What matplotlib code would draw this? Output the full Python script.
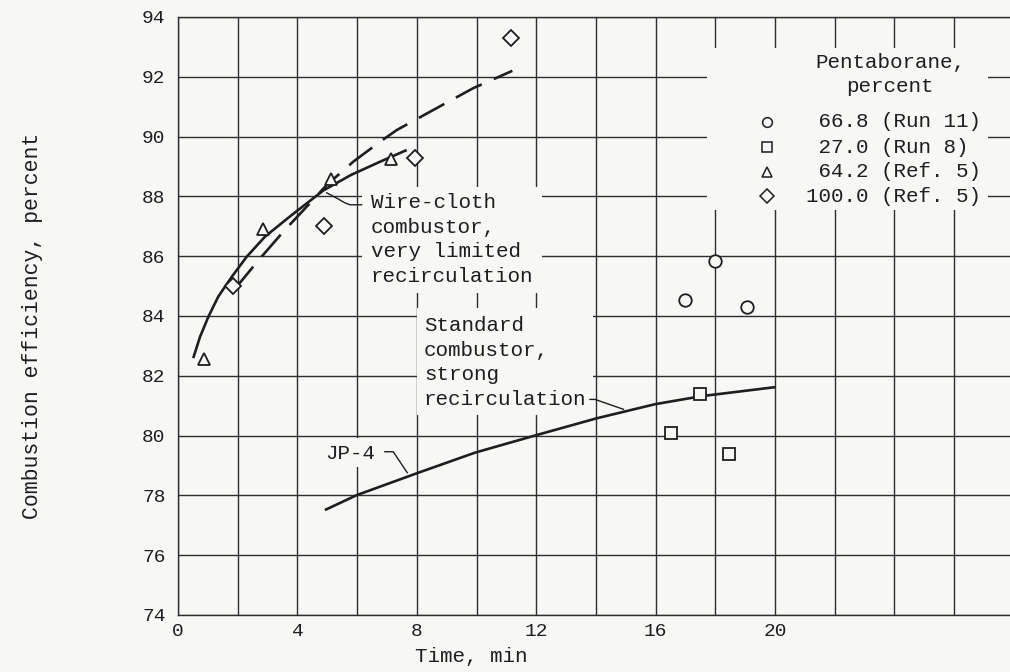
import matplotlib
matplotlib.use("Agg")
import matplotlib.pyplot as plt
from matplotlib.patches import Rectangle

# ---------------- data ----------------
run11_x = [17.0, 18.0, 19.05]
run11_y = [84.55, 85.85, 84.3]

run8_x = [16.5, 17.5, 18.45]
run8_y = [80.1, 81.4, 79.4]

ref5_tri_x = [0.87, 2.85, 5.13, 7.15]
ref5_tri_y = [82.55, 86.9, 88.58, 89.25]

ref5_dia_x = [1.85, 4.88, 7.93, 11.15]
ref5_dia_y = [85.0, 87.02, 89.3, 93.3]

wire_solid_x = [0.51, 0.74, 1.02, 1.35, 1.80, 2.30, 2.91, 3.75, 4.87, 5.8, 6.77, 7.66]
wire_solid_y = [82.59, 83.31, 83.98, 84.65, 85.31, 85.98, 86.65, 87.33, 88.2, 88.72, 89.16, 89.55]

wire_dash_x = [1.9, 2.7, 3.58, 4.4, 4.98, 5.87, 6.77, 7.33, 8.55, 9.89, 11.2]
wire_dash_y = [84.9, 85.87, 86.88, 87.75, 88.38, 89.16, 89.83, 90.22, 90.89, 91.62, 92.2]

jp4_x = [4.92, 5.99, 8.0, 9.95, 12.02, 14.03, 15.98, 17.54, 20.0]
jp4_y = [77.51, 78.01, 78.74, 79.43, 80.02, 80.58, 81.05, 81.32, 81.62]

x_ticks = [0, 4, 8, 12, 16, 20]
y_ticks = [74, 76, 78, 80, 82, 84, 86, 88, 90, 92, 94]

legend_title = "Pentaborane,\npercent"
legend_labels = [" 66.8 (Run 11)", " 27.0 (Run 8)", " 64.2 (Ref. 5)", "100.0 (Ref. 5)"]
legend_markers = ["o", "s", "^", "D"]

wire_label = "Wire-cloth\ncombustor,\nvery limited\nrecirculation"
std_label = "Standard\ncombustor,\nstrong\nrecirculation"
jp4_label = "JP-4"

# ---------------- style ----------------
BG = "#f7f7f5"
INK = "#1e1e1e"
GRID = "#2e2e2e"
FONT = ["Liberation Mono", "DejaVu Sans Mono"]
plt.rcParams["font.family"] = FONT

fig = plt.figure(figsize=(10.10, 6.72), dpi=100, facecolor=BG)
ax = fig.add_axes([178 / 1010, 1 - 615 / 672, 1 - 178 / 1010, (615 - 17) / 672])
ax.set_facecolor(BG)
ax.set_xlim(0, 27.87)
ax.set_ylim(74, 94)

# grid every 2 units
ax.set_xticks(list(range(0, 28, 2)))
ax.set_yticks(y_ticks)
ax.set_xticklabels([str(v) if v in x_ticks else "" for v in range(0, 28, 2)])
ax.set_axisbelow(True)
ax.grid(True, color=GRID, lw=1.0)
ax.tick_params(length=0, labelsize=14, colors=INK)
ax.tick_params(axis="y", pad=9)
ax.tick_params(axis="x", pad=6)
ax.spines["right"].set_visible(False)
for s in ["left", "bottom", "top"]:
    ax.spines[s].set_color(GRID)
    ax.spines[s].set_linewidth(1.0)

# masks behind text blocks (grid interrupted there)
for (x0, y0, x1, y1) in [(17.72, 87.55, 27.14, 92.96),
                         (6.16, 84.77, 12.2, 88.31),
                         (8.0, 80.69, 13.9, 84.27),
                         (4.6, 78.95, 7.6, 79.93)]:
    ax.add_patch(Rectangle((x0, y0), x1 - x0, y1 - y0, facecolor=BG,
                           edgecolor="none", zorder=1))

# curves
ax.plot(wire_solid_x, wire_solid_y, color=INK, lw=1.9, zorder=3,
        solid_capstyle="butt")
ax.plot(wire_dash_x, wire_dash_y, color=INK, lw=1.9, zorder=3,
        dashes=(11, 5), dash_capstyle="butt")
ax.plot(jp4_x, jp4_y, color=INK, lw=1.9, zorder=3, solid_capstyle="butt")

# data points
mk = dict(ls="none", mfc=BG, mec=INK, mew=1.3, zorder=4)
ax.plot(run11_x, run11_y, marker="o", ms=9, **mk)
ax.plot(run8_x, run8_y, marker="s", ms=9, **mk)
ax.plot(ref5_tri_x, ref5_tri_y, marker="^", ms=9, **mk)
ax.plot(ref5_dia_x, ref5_dia_y, marker="D", ms=8.5, **mk)

# annotations
tfs = 15
LS = 1.38
ax.text(6.46, 88.12, wire_label, fontsize=tfs, color=INK, ha="left", va="top",
        linespacing=LS, zorder=5)
ax.plot([4.98, 5.3, 5.6, 5.76, 6.15], [88.12, 87.95, 87.78, 87.72, 87.72],
        color=INK, lw=1.0, zorder=5)

ax.text(8.24, 84.0, std_label, fontsize=tfs, color=INK, ha="left", va="top",
        linespacing=LS, zorder=5)
ax.plot([13.8, 13.97, 14.92], [81.21, 81.21, 80.88], color=INK, lw=1.0, zorder=5)

ax.text(4.92, 79.41, jp4_label, fontsize=tfs, color=INK, ha="left",
        va="center", zorder=5)
ax.plot([6.93, 7.21, 7.68], [79.46, 79.46, 78.76], color=INK, lw=1.0, zorder=5)

# legend (manual)
ax.text(23.85, 92.08, legend_title, fontsize=tfs, color=INK, ha="center",
        va="center", linespacing=LS, multialignment="center", zorder=5)
leg_y = [90.49, 89.65, 88.82, 88.01]
for m, lab, yy in zip(legend_markers, legend_labels, leg_y):
    ax.plot([19.73], [yy], marker=m, ms=7, ls="none", mfc=BG, mec=INK,
            mew=1.1, zorder=5)
    ax.text(21.04, yy, lab, fontsize=tfs, color=INK, ha="left", va="center",
            zorder=5)

# axis titles
fig.text(33 / 1010, 1 - 326 / 672, "Combustion efficiency, percent",
         rotation=90, ha="center", va="center", fontsize=15.5, color=INK)
fig.text(471 / 1010, 1 - 657 / 672, "Time, min", ha="center", va="center",
         fontsize=15, color=INK)

fig.savefig("out.png", dpi=100, facecolor=BG)
